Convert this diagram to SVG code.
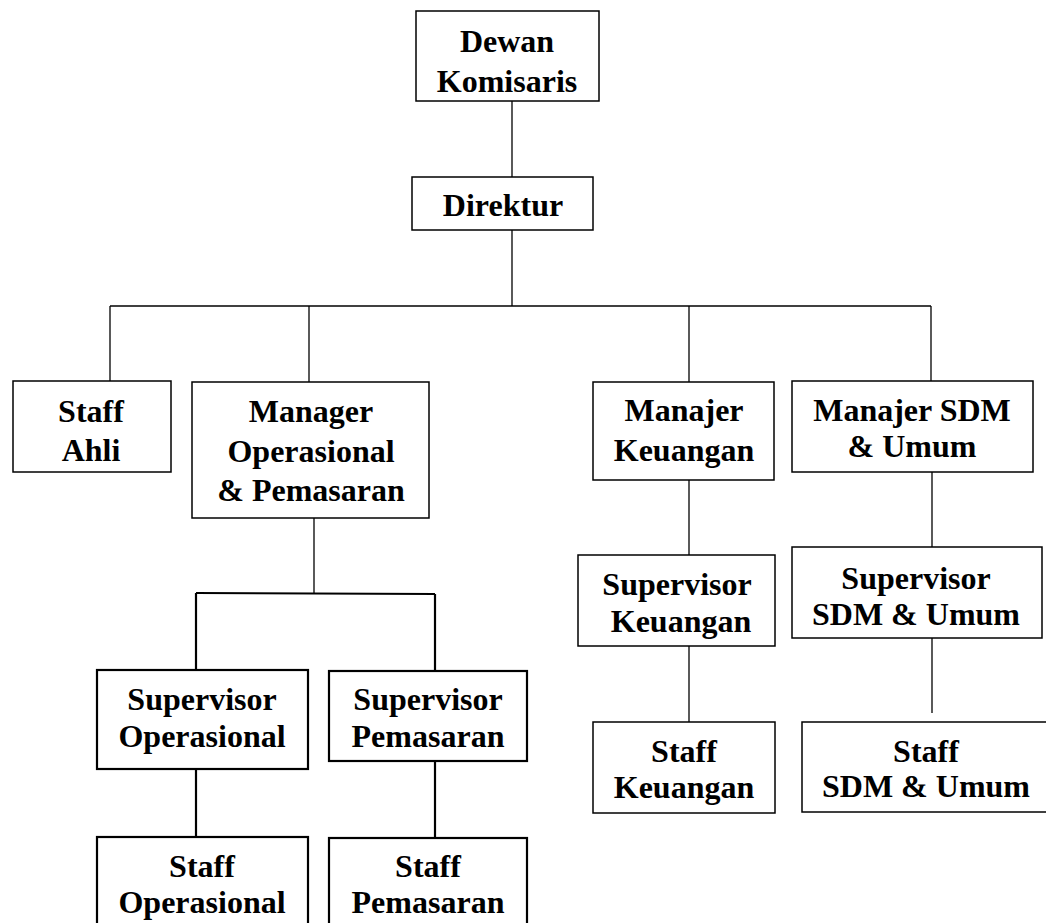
<svg xmlns="http://www.w3.org/2000/svg" width="1046" height="923" viewBox="0 0 1046 923">
<style>
rect{fill:#fff;stroke:#000;stroke-width:1.5}
rect.t{stroke-width:2.2}
line{stroke:#000;stroke-width:1.3}
line.t{stroke-width:2.2}
text{font-family:"Liberation Serif","Times New Roman",serif;font-weight:bold;font-size:32px;text-anchor:middle;fill:#000}
</style>
<rect x="0" y="0" width="1046" height="923" style="fill:#fff;stroke:none"/>
<g id="connectors">
<line x1="512" y1="101" x2="512" y2="177"/>
<line x1="512" y1="230" x2="512" y2="306"/>
<line x1="110" y1="306" x2="931" y2="306"/>
<line x1="110" y1="306" x2="110" y2="381"/>
<line x1="309" y1="306" x2="309" y2="382"/>
<line x1="689" y1="306" x2="689" y2="382"/>
<line x1="931" y1="306" x2="931" y2="381"/>
<line x1="689" y1="480" x2="689" y2="555"/>
<line x1="689" y1="646" x2="689" y2="722"/>
<line x1="932" y1="472" x2="932" y2="547"/>
<line x1="932" y1="638" x2="932" y2="713"/>
<line x1="314" y1="518" x2="314" y2="593"/>
<line class="t" x1="196" y1="593" x2="435" y2="594"/>
<line class="t" x1="196" y1="593" x2="196" y2="670"/>
<line class="t" x1="435" y1="594" x2="435" y2="671"/>
<line class="t" x1="196" y1="769" x2="196" y2="837"/>
<line class="t" x1="435" y1="761" x2="435" y2="838"/>
</g>
<g id="dewan-komisaris"><rect x="416" y="11" width="183" height="90"/><text x="507" y="52">Dewan</text><text x="507" y="92">Komisaris</text></g>
<g id="direktur"><rect x="412" y="177" width="181" height="53"/><text x="503" y="216">Direktur</text></g>
<g id="staff-ahli"><rect x="13" y="381" width="158" height="91"/><text x="91" y="422">Staff</text><text x="91" y="461">Ahli</text></g>
<g id="manager-operasional"><rect x="192" y="382" width="237" height="136"/><text x="311" y="422">Manager</text><text x="311" y="462">Operasional</text><text x="311" y="501">&amp; Pemasaran</text></g>
<g id="manajer-keuangan"><rect x="593" y="382" width="181" height="98"/><text x="684" y="421">Manajer</text><text x="684" y="461">Keuangan</text></g>
<g id="manajer-sdm"><rect x="792" y="381" width="241" height="91"/><text x="912" y="421">Manajer SDM</text><text x="912" y="457">&amp; Umum</text></g>
<g id="supervisor-keuangan"><rect x="578" y="555" width="197" height="91"/><text x="677" y="595">Supervisor</text><text x="681" y="632">Keuangan</text></g>
<g id="supervisor-sdm"><rect x="792" y="547" width="250" height="91"/><text x="916" y="589">Supervisor</text><text x="916" y="625">SDM &amp; Umum</text></g>
<g id="staff-keuangan"><rect x="593" y="722" width="182" height="91"/><text x="684" y="762">Staff</text><text x="684" y="798">Keuangan</text></g>
<g id="staff-sdm"><rect x="802" y="722" width="250" height="90"/><text x="926" y="762">Staff</text><text x="926" y="797">SDM &amp; Umum</text></g>
<g id="supervisor-operasional"><rect class="t" x="97" y="670" width="211" height="99"/><text x="202" y="710">Supervisor</text><text x="202" y="747">Operasional</text></g>
<g id="supervisor-pemasaran"><rect class="t" x="329" y="671" width="198" height="90"/><text x="428" y="710">Supervisor</text><text x="428" y="747">Pemasaran</text></g>
<g id="staff-operasional"><rect class="t" x="97" y="837" width="211" height="100"/><text x="202" y="877">Staff</text><text x="202" y="913">Operasional</text></g>
<g id="staff-pemasaran"><rect class="t" x="329" y="838" width="198" height="100"/><text x="428" y="877">Staff</text><text x="428" y="913">Pemasaran</text></g>
</svg>
